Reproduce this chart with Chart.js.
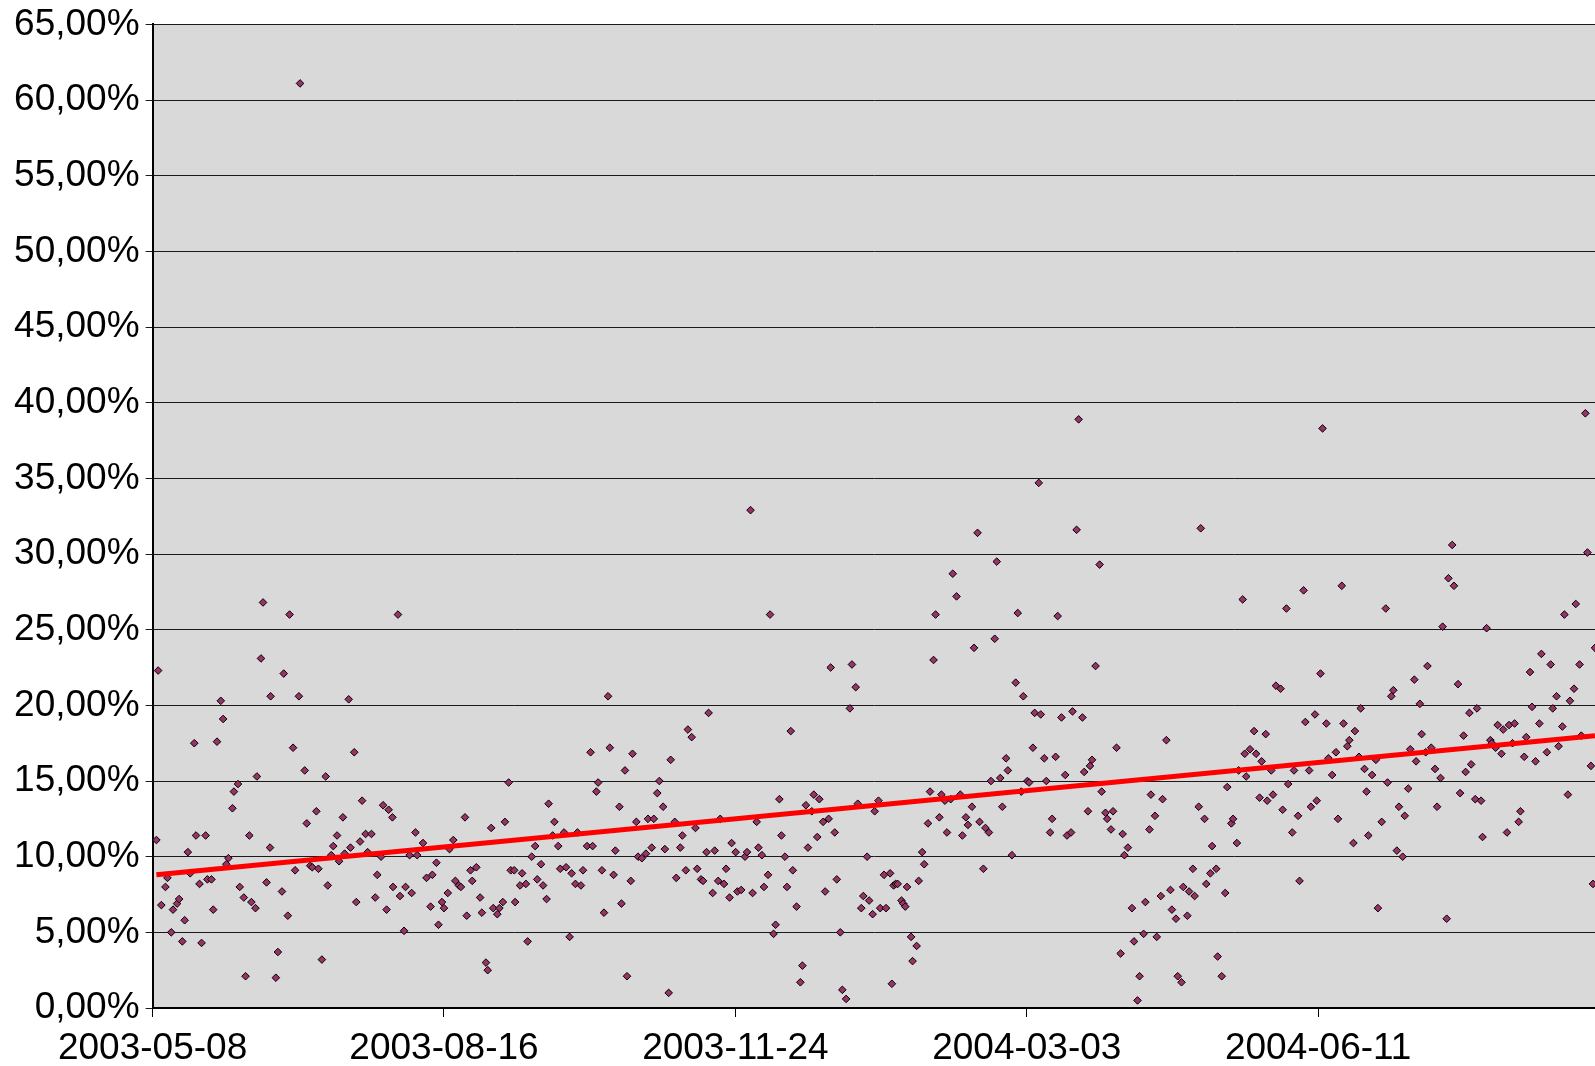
<!DOCTYPE html>
<html>
<head>
<meta charset="utf-8">
<script src="https://cdn.jsdelivr.net/npm/chart.js@4/dist/chart.umd.min.js"></script>
<style>
  html, body { margin: 0; padding: 0; background: #ffffff; }
  #wrap { width: 1595px; height: 1066px; }
</style>
</head>
<body>
<div id="wrap"><canvas id="c" width="1595" height="1066"></canvas></div>
<script>
// ---- data ----
const startDate = '2003-05-08';           // x = 0
const xTickDays = [0, 100, 200, 300, 400]; // tick positions (days after startDate)
const yTickValues = [0,5,10,15,20,25,30,35,40,45,50,55,60,65];

// days after startDate for each observation
const days = [
  1.3,1.9,3.0,4.4,5.1,6.4,7.0,8.4,9.1,10.2,11.0,12.1,12.9,14.3,14.9,16.1,16.8,18.2,18.8,20.2,20.8,22.1,23.4,24.2,25.3,26.0,27.4,27.9,29.3,29.9,31.3,31.9,33.2,33.9,35.3,35.8,37.2,37.9,39.1,40.3,40.5,
  42.3,43.0,44.4,45.0,46.4,47.0,48.2,48.9,50.2,50.6,52.2,52.9,54.1,54.8,56.2,56.9,58.1,59.4,60.1,61.3,62.0,63.3,64.0,65.3,65.9,67.3,67.9,69.2,69.9,71.2,71.9,73.1,73.8,75.1,76.4,77.1,78.4,79.1,80.3,81.0,82.3,82.5,
  84.2,84.9,86.3,86.8,88.2,88.9,90.2,90.8,92.8,94.0,95.4,96.0,97.4,98.1,99.3,100.0,101.3,101.9,103.2,103.9,105.1,105.8,107.2,107.8,109.1,109.7,111.1,112.4,113.0,114.4,115.0,116.2,116.9,118.3,119.0,120.2,120.9,122.2,122.9,124.1,124.4,
  126.1,126.8,128.1,128.7,130.1,131.3,132.0,133.3,134.0,135.2,135.9,137.3,137.9,139.2,139.9,141.2,141.9,143.1,143.8,145.1,145.8,147.0,147.7,149.1,150.3,151.0,152.3,152.9,154.2,154.9,156.3,156.9,158.2,158.8,160.2,160.9,162.1,162.8,164.1,164.7,166.0,166.6,
  167.9,169.3,170.0,171.3,172.0,173.2,173.9,175.2,175.8,177.1,177.8,179.2,179.7,181.1,181.8,183.0,183.7,185.0,186.3,186.9,188.2,188.9,190.1,190.8,192.2,192.9,194.1,194.8,196.1,196.8,198.0,198.7,200.1,200.7,202.0,203.3,204.0,205.2,205.9,207.3,207.9,
  209.1,209.8,211.2,211.9,213.1,213.8,215.1,215.8,217.0,217.7,219.0,219.7,221.0,222.3,223.0,224.2,224.9,226.2,226.9,228.1,228.8,230.1,230.8,232.0,232.7,234.1,234.8,236.0,236.7,238.0,239.3,240.0,241.3,242.0,243.2,243.9,245.2,245.9,247.1,247.8,249.1,249.7,
  251.0,251.7,253.1,253.7,254.3,255.0,255.7,257.0,257.6,258.3,258.9,260.3,260.8,262.2,262.9,264.1,264.8,266.1,266.8,268.0,268.7,270.0,270.7,271.9,272.6,273.9,274.6,275.9,277.2,277.9,279.1,279.8,281.2,281.9,283.1,283.8,285.1,285.8,287.0,287.7,289.0,289.7,290.9,291.6,
  292.9,293.5,294.9,296.2,296.9,298.1,298.8,300.2,300.8,302.1,302.7,304.1,304.8,306.0,306.7,308.0,308.7,309.9,310.6,311.9,313.2,313.8,315.2,315.7,317.1,317.8,319.1,319.7,321.0,321.7,322.4,323.6,325.0,325.7,327.0,327.6,328.9,329.6,330.8,332.2,332.9,333.5,
  334.7,336.1,336.8,338.0,338.7,340.1,340.7,342.1,342.6,344.0,344.6,346.0,346.6,347.9,349.3,349.8,351.2,351.8,353.1,353.7,355.1,355.7,357.0,357.6,359.0,359.7,361.0,361.6,363.0,363.6,365.0,365.5,366.9,368.1,368.8,370.2,370.8,372.1,372.7,374.1,374.8,375.3,
  376.6,378.0,378.7,379.9,380.6,382.0,382.5,383.9,384.5,385.5,387.1,387.8,389.1,389.7,391.1,391.7,393.1,393.6,395.0,395.6,396.9,397.5,398.9,399.5,400.8,401.5,402.8,403.5,404.8,406.1,406.8,408.1,408.7,410.0,410.7,412.1,412.6,414.0,414.6,415.9,416.6,417.2,
  418.5,419.8,420.5,421.8,423.2,423.8,425.1,425.8,427.0,427.7,429.0,429.7,430.9,431.6,433.0,433.6,434.9,435.5,436.9,437.5,438.8,440.1,440.8,442.0,442.7,444.1,444.7,446.0,446.6,448.0,448.7,449.9,450.6,451.9,452.5,453.9,454.5,455.9,456.4,457.8,459.1,
  459.6,460.9,461.6,462.9,463.5,464.8,465.5,466.7,467.4,468.8,469.4,470.7,471.4,472.7,473.4,474.6,475.9,476.6,478.5,479.8,480.5,481.8,482.5,483.8,484.5,485.7,486.4,487.8,488.4,489.7,490.3,491.7,492.4,493.6,494.3,495.0
];

// percentage value of each observation
const values = [
  11.1,22.3,6.8,8.0,8.6,5.0,6.5,6.9,7.2,4.4,5.8,10.3,8.9,17.5,11.4,8.2,4.3,11.4,8.5,8.5,6.5,17.6,20.3,19.1,9.5,9.9,13.2,14.3,14.8,8.0,7.3,2.1,11.4,7.0,6.6,15.3,23.1,26.8,8.3,10.6,20.6,
  2.0,3.7,7.7,22.1,6.1,26.0,17.2,9.1,20.6,61.1,15.7,12.2,9.4,9.3,13.0,9.2,3.2,15.3,8.1,10.1,10.7,11.4,9.7,12.6,10.2,20.4,10.6,16.9,7.0,11.0,13.7,11.5,10.3,11.5,7.3,8.8,10.0,13.4,6.5,13.1,12.6,8.0,
  26.0,7.4,5.1,8.0,10.1,7.6,11.6,10.1,10.9,8.6,6.7,8.8,9.6,5.5,7.0,6.6,7.6,10.5,11.1,8.4,8.1,8.0,12.6,6.1,9.1,8.4,9.3,7.3,6.3,3.0,2.5,11.9,6.6,6.2,6.6,7.0,12.3,14.9,9.1,9.1,7.0,
  8.1,8.9,8.2,4.4,10.0,10.7,8.5,9.5,8.1,7.2,13.5,11.4,12.3,10.7,9.2,11.6,9.3,4.7,8.9,8.2,11.6,8.1,9.1,10.7,16.9,10.7,14.3,14.9,9.1,6.3,20.6,17.2,8.8,10.4,13.3,6.9,15.7,2.1,8.4,16.8,12.3,10.0,
  9.9,10.2,12.5,10.6,12.5,14.2,15.0,13.3,10.5,1.0,16.4,12.3,8.6,10.6,11.4,9.1,18.4,17.9,11.9,9.2,8.5,8.4,10.3,19.5,7.6,10.4,8.4,12.5,8.2,9.2,7.3,10.9,10.3,7.7,7.8,10.0,10.3,32.9,7.6,12.3,10.6,
  10.1,8.0,8.8,26.0,4.9,5.5,13.8,11.4,10.0,8.0,18.3,9.1,6.7,1.7,2.8,13.4,10.6,13.0,14.1,11.3,13.8,12.3,7.7,12.5,22.5,11.6,8.5,5.0,1.2,0.6,19.8,22.7,21.2,13.5,6.6,7.4,10.0,7.1,6.2,13.0,13.7,6.6,
  8.8,6.6,8.9,1.6,8.1,8.2,8.2,7.1,6.9,6.7,8.0,4.7,3.1,4.1,8.4,10.3,9.5,12.2,14.3,23.0,26.0,12.6,14.1,13.7,11.6,13.8,28.7,27.2,14.1,11.4,12.6,12.1,13.3,23.8,31.4,12.3,9.2,11.9,11.6,15.0,24.4,29.5,15.2,13.3,
  16.5,15.7,10.1,21.5,26.1,14.3,20.6,15.0,14.9,17.2,19.5,34.7,19.4,16.5,15.0,11.6,12.5,16.6,25.9,19.2,15.4,11.4,11.6,19.6,31.6,38.9,19.2,15.6,13.0,16.0,16.4,22.6,29.3,14.3,12.9,12.5,11.8,13.0,17.2,3.6,11.5,10.1,
  10.6,6.6,4.4,0.5,2.1,4.9,7.0,11.8,14.1,12.7,4.7,7.4,13.8,17.7,7.8,6.5,5.9,2.1,1.7,8.0,6.1,7.7,9.2,7.4,13.3,31.7,12.5,8.2,8.9,10.7,9.2,3.4,2.1,7.6,14.6,12.2,12.5,10.9,15.7,27.0,16.8,15.3,
  17.1,18.3,16.8,13.9,16.3,18.1,13.7,15.7,14.1,21.3,21.1,13.1,26.4,14.8,11.6,15.7,12.7,8.4,27.6,18.9,15.7,13.3,19.4,13.7,22.1,38.3,18.8,16.5,15.4,16.9,12.5,27.9,18.8,17.3,17.7,10.9,18.3,16.6,19.8,15.8,14.3,11.4,
  15.4,16.4,6.6,12.3,26.4,14.9,20.6,21.0,10.4,13.3,10.0,12.7,14.5,17.1,21.7,16.3,20.1,18.1,16.9,22.6,17.2,15.8,13.3,15.2,25.2,5.9,28.4,30.6,27.9,21.4,14.2,18.0,15.6,19.5,16.1,13.8,19.8,13.7,11.3,25.1,17.7,
  17.5,17.2,18.7,16.8,18.4,11.6,18.7,17.5,18.8,12.3,13.0,16.6,17.9,22.2,19.9,16.3,18.8,23.4,16.9,22.7,19.8,20.6,17.3,18.6,26.0,14.1,20.3,21.1,26.7,22.7,18.0,39.3,30.1,16.0,8.2,23.8
];

// linear trend line end points
const trendDays = [1.3, 495.0];
const trendValues = [8.8, 18.0];

const xMaxDay = 495.0;

// ---- helpers ----
function dayLabel(d) {
  const base = new Date(startDate + 'T00:00:00Z');
  const t = new Date(base.getTime() + Math.round(d) * 86400000);
  return t.toISOString().slice(0, 10);
}
function pctLabel(v) {
  return v.toFixed(2).replace('.', ',') + '%';
}

const scatterData = days.map((d, i) => ({ x: d, y: values[i] }));
const trendData = trendDays.map((d, i) => ({ x: d, y: trendValues[i] }));

const plotBg = {
  id: 'plotBg',
  beforeDraw(chart) {
    const { ctx, chartArea: a } = chart;
    ctx.save();
    ctx.fillStyle = '#d9d9d9';
    ctx.fillRect(a.left, a.top, a.right - a.left, a.bottom - a.top);
    ctx.restore();
  }
};

const FONT = { family: '"Liberation Sans", Arial, sans-serif', size: 37 };

new Chart(document.getElementById('c'), {
  type: 'scatter',
  data: {
    datasets: [
      {
        type: 'line',
        label: 'trend',
        data: trendData,
        borderColor: '#ff0000',
        borderWidth: 5,
        pointRadius: 0,
        fill: false,
        tension: 0,
        order: 0
      },
      {
        label: 'values',
        data: scatterData,
        pointStyle: 'rectRot',
        pointRadius: 3.8,
        pointBackgroundColor: '#993366',
        pointBorderColor: '#000000',
        pointBorderWidth: 1,
        order: 1
      }
    ]
  },
  options: {
    responsive: false,
    animation: false,
    devicePixelRatio: 1,
    layout: { autoPadding: false, padding: { top: 24.4, right: 0, bottom: 0, left: 0 } },
    plugins: { legend: { display: false }, tooltip: { enabled: false } },
    scales: {
      x: {
        type: 'linear',
        min: 0,
        max: xMaxDay,
        afterBuildTicks(scale) {
          scale.ticks = xTickDays.map(v => ({ value: v }));
        },
        afterFit(scale) {
          scale.height = 58;
          scale.paddingRight = 0;
        },
        ticks: {
          autoSkip: false,
          maxRotation: 0,
          padding: 10,
          color: '#000',
          font: FONT,
          callback: (v) => dayLabel(v)
        },
        grid: {
          drawOnChartArea: false,
          drawTicks: true,
          tickLength: 9,
          color: '#000',
          lineWidth: 1
        },
        border: { color: '#000', width: 2 }
      },
      y: {
        min: 0,
        max: 65,
        afterBuildTicks(scale) {
          scale.ticks = yTickValues.map(v => ({ value: v }));
        },
        afterFit(scale) {
          scale.width = 152.6;
          scale.paddingTop = 0;
          scale.paddingBottom = 0;
        },
        ticks: {
          padding: 6,
          color: '#000',
          font: FONT,
          callback: (v) => pctLabel(v)
        },
        grid: {
          color: '#1a1a1a',
          lineWidth: 1,
          drawTicks: true,
          tickLength: 7
        },
        border: { color: '#000', width: 2 }
      }
    }
  },
  plugins: [plotBg]
});
</script>
</body>
</html>
